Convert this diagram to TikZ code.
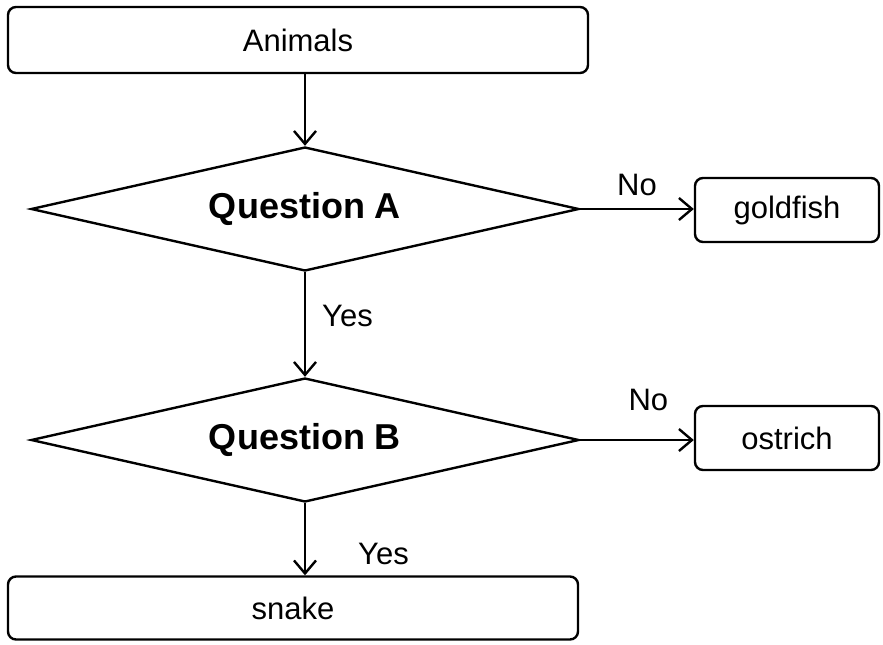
\documentclass[tikz,border=0pt]{standalone}
\usepackage{fontspec}
\setmainfont{Liberation Sans}
\usetikzlibrary{shapes.geometric,positioning,arrows.meta}

\begin{document}
\begin{tikzpicture}[x=0.5pt,y=-0.5pt,line width=1.2pt,>={Straight Barb[length=6.5pt,width=11pt]},
  every node/.style={align=center,inner sep=0,font=\fontsize{15.5}{18}\selectfont},
  box/.style={shape=rectangle,draw,rounded corners=4pt},
  question/.style={shape=diamond,draw,aspect=4.4,minimum width=274pt,minimum height=62pt,font=\fontsize{18}{21}\bfseries\selectfont}]

\useasboundingbox (0,0) rectangle (883,644);

\node [box, minimum width=290pt, minimum height=33pt] (animals) at (298,40) {Animals};
\node [question] (qa) at (305,209) {Question A};
\node [box, minimum width=92pt, minimum height=32pt] (goldfish) at (787,210) {goldfish};
\node [question] (qb) at (305,440) {Question B};
\node [box, minimum width=92pt, minimum height=32pt] (ostrich) at (787,438) {ostrich};
\node [box, minimum width=285pt, minimum height=31.5pt] (snake) at (293,608) {snake};

\draw [->] (animals.south -| qa.north) -- (qa.north);
\draw [->] (qa.east) -- node [above=6pt] {No} (qa.east -| goldfish.west);
\draw [->] (qa.south) -- node [right=8pt, pos=0.42] {Yes} (qb.north);
\draw [->] (qb.east) -- node [above=14pt, pos=0.6] {No} (qb.east -| ostrich.west);
\draw [->] (qb.south) -- node [right=26pt, pos=0.7] {Yes} (snake.north -| qb.south);

\end{tikzpicture}
\end{document}
